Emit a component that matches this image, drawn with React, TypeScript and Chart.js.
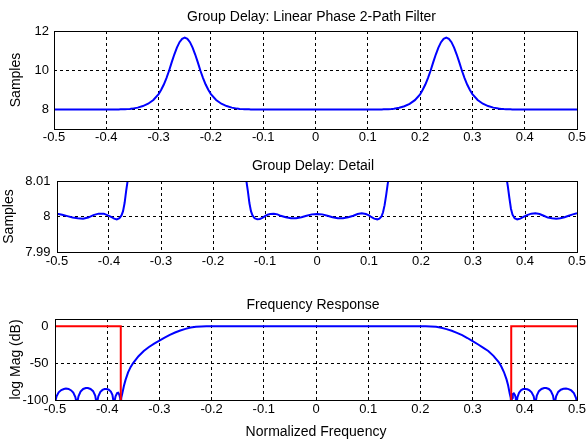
import React, { useEffect, useRef } from "react";
import { Chart, registerables } from "chart.js";

Chart.register(...registerables);

// ---------- data ----------
const xTickValues = [-0.5, -0.4, -0.3, -0.2, -0.1, 0, 0.1, 0.2, 0.3, 0.4, 0.5];
const delayTickValues = [8, 10, 12];
const detailTickValues = [7.99, 8, 8.01];
const magTickValues = [-100, -50, 0];

const delayFreq = [
  -0.5, -0.49, -0.48, -0.47, -0.46, -0.45, -0.44, -0.43, -0.42, -0.41, -0.4, -0.395, -0.39, -0.385, -0.38,
  -0.376, -0.373, -0.37, -0.367, -0.364, -0.36, -0.355, -0.35, -0.34, -0.33, -0.32, -0.31, -0.3, -0.295,
  -0.29, -0.285, -0.28, -0.275, -0.27, -0.265, -0.26, -0.255, -0.25, -0.245, -0.24, -0.235, -0.23, -0.225,
  -0.22, -0.215, -0.21, -0.205, -0.2, -0.19, -0.18, -0.17, -0.16, -0.15, -0.145, -0.14, -0.136, -0.133,
  -0.13, -0.127, -0.124, -0.12, -0.115, -0.11, -0.105, -0.1, -0.095, -0.09, -0.083, -0.076, -0.07, -0.06,
  -0.05, -0.04, -0.03, -0.02, -0.01, 0,
  0.01, 0.02, 0.03, 0.04, 0.05, 0.06, 0.07, 0.078, 0.086, 0.094, 0.1, 0.105, 0.11, 0.116, 0.12, 0.124,
  0.127, 0.13, 0.133, 0.136, 0.139, 0.145, 0.15, 0.16, 0.17, 0.18, 0.19, 0.2, 0.205, 0.21, 0.215, 0.22,
  0.225, 0.23, 0.235, 0.24, 0.245, 0.25, 0.255, 0.26, 0.265, 0.27, 0.275, 0.28, 0.285, 0.29, 0.295, 0.3,
  0.31, 0.32, 0.33, 0.34, 0.35, 0.355, 0.36, 0.364, 0.367, 0.37, 0.373, 0.376, 0.38, 0.385, 0.391, 0.397,
  0.404, 0.412, 0.42, 0.428, 0.436, 0.444, 0.452, 0.46, 0.468, 0.476, 0.484, 0.492, 0.5,
];
const delaySamples = [
  8.0008, 8.0005, 8.0001, 7.9997, 7.9995, 7.9994, 7.9997, 8.0004, 8.0008, 8.0008, 8.0002, 7.9998, 7.9994, 7.9992, 7.9995,
  8.0003, 8.0015, 8.0038, 8.0072, 8.0102, 8.014, 8.024, 8.04, 8.09, 8.17, 8.29, 8.48, 8.78, 9.0,
  9.27, 9.6, 9.97, 10.4, 10.8, 11.15, 11.43, 11.6, 11.66, 11.6, 11.43, 11.15, 10.8, 10.4,
  9.97, 9.6, 9.27, 9.0, 8.78, 8.48, 8.29, 8.17, 8.09, 8.04, 8.024, 8.014, 8.0102, 8.0072,
  8.0038, 8.0015, 8.0003, 7.9995, 7.9992, 7.9993, 7.9996, 8.0001, 8.0005, 8.0007, 8.0008, 8.0006, 8.0002, 7.9998,
  7.9995, 7.9995, 7.9998, 8.0002, 8.0006, 8.0007,
  8.0006, 8.0002, 7.9998, 7.9995, 7.9995, 7.9998, 8.0002, 8.0007, 8.0009, 8.0007, 8.0003, 7.9998, 7.9994, 7.9992, 7.9994, 8.0,
  8.0012, 8.0032, 8.006, 8.0092, 8.0118, 8.022, 8.037, 8.085, 8.16, 8.28, 8.47, 8.77, 9.0, 9.27, 9.6, 9.97,
  10.4, 10.8, 11.15, 11.43, 11.6, 11.66, 11.6, 11.43, 11.15, 10.8, 10.4, 9.97, 9.6, 9.27, 9.0, 8.78,
  8.48, 8.29, 8.17, 8.09, 8.042, 8.026, 8.016, 8.0112, 8.0085, 8.0052, 8.0022, 8.0005, 7.9995, 7.9992, 7.9994, 7.9999,
  8.0004, 8.0008, 8.0009, 8.0007, 8.0002, 7.9997, 7.9995, 7.9994, 7.9995, 7.9998, 8.0002, 8.0006, 8.0009,
];

const magFreq = [
  -0.5, -0.497, -0.493, -0.488, -0.483, -0.479, -0.474, -0.469, -0.465, -0.461, -0.458, -0.455, -0.451,
  -0.446, -0.441, -0.437, -0.432, -0.427, -0.423, -0.42, -0.417, -0.413, -0.409, -0.405, -0.401, -0.397,
  -0.393, -0.39, -0.387, -0.384, -0.381, -0.379, -0.377, -0.375, -0.374, -0.373, -0.371, -0.368, -0.365,
  -0.36, -0.355, -0.35, -0.34, -0.33, -0.32, -0.31, -0.3, -0.29, -0.28, -0.27, -0.26, -0.25, -0.24, -0.23,
  -0.22, -0.21, -0.1, 0, 0.1, 0.21, 0.22, 0.23, 0.24, 0.25, 0.26, 0.27, 0.28, 0.29, 0.3, 0.31, 0.32, 0.33,
  0.34, 0.35, 0.355, 0.36, 0.365, 0.368, 0.371, 0.373, 0.374, 0.3755, 0.377, 0.379, 0.381, 0.3825, 0.384,
  0.386, 0.389, 0.393, 0.397, 0.401, 0.405, 0.409, 0.413, 0.417, 0.42, 0.423, 0.427, 0.432, 0.437, 0.441,
  0.446, 0.45, 0.454, 0.457, 0.46, 0.464, 0.469, 0.474, 0.479, 0.484, 0.489, 0.494, 0.498, 0.5,
];
const magDb = [
  -104, -95, -89.5, -86.5, -85, -84.5, -85, -87, -90, -96, -106, -95, -88.5,
  -85, -83.7, -83.7, -85, -88, -94, -106, -95, -89, -86.3, -85.2, -85, -86,
  -88.5, -93, -106, -95, -90.5, -90, -92.5, -98, -106, -97, -91, -81, -73,
  -62.5, -55, -49.5, -40.5, -33.5, -28, -23.5, -19.3, -15.2, -11.5, -8.3, -5.6, -3.4, -1.6, -0.5,
  -0.05, 0, 0, 0, 0, 0, -0.05, -0.6, -1.8, -3.8, -6, -8.8, -12, -15.8, -20, -24.3, -28.8, -33.5,
  -40, -48.5, -54.5, -62, -72, -80, -91, -97, -106, -97, -92, -91, -93, -97, -106,
  -96, -90, -86.5, -85.2, -85, -85.5, -87, -89.5, -95, -106, -94, -88, -85, -83.7, -83.7,
  -85, -88, -94, -106, -95, -89, -86, -84.8, -84.5, -85.2, -87, -90.5, -97, -104,
];

const maskLeftFreq = [-0.5, -0.374, -0.374];
const maskLeftDb = [0, 0, -100];
const maskRightFreq = [0.374, 0.374, 0.5];
const maskRightDb = [-100, 0, 0];

// ---------- helpers ----------
const W = 587;
const H = 443;
const FONT = "'Liberation Sans', Arial, Helvetica, sans-serif";
const BLUE = "#0000ff";
const RED = "#ff0000";

function pts(xs: number[], ys: number[]) {
  return xs.map((x, i) => ({ x, y: ys[i] }));
}

function lineSet(xs: number[], ys: number[], color: string) {
  return {
    data: pts(xs, ys),
    borderColor: color,
    backgroundColor: color,
    borderWidth: 2,
    pointRadius: 0,
    tension: 0,
    fill: false,
    clip: 0,
  };
}

const boxPlugin = {
  id: "matlabBox",
  afterLayout(chart: any) {
    const dx = chart.options.plugins.matlabBox?.titleShift || 0;
    if (chart.titleBlock) {
      chart.titleBlock.left += dx;
      chart.titleBlock.right += dx;
    }
  },
  afterDraw(chart: any) {
    const { ctx, chartArea } = chart;
    const l = Math.round(chartArea.left);
    const r = Math.round(chartArea.right);
    const t = Math.round(chartArea.top);
    const b = Math.round(chartArea.bottom);
    ctx.save();
    ctx.strokeStyle = "#000";
    ctx.lineWidth = 1;
    ctx.setLineDash([]);
    ctx.strokeRect(l + 0.5, t + 0.5, r - l, b - t);
    ctx.restore();
  },
};

interface Panel {
  left: number;
  right: number;
  top: number;
  bottom: number;
  titleTop: number;
  title: string;
  titleShift: number;
  yTitle: string;
  yTitleOffset: number;
  yLabelGap: number;
  xLabelPad: number;
  yMin: number;
  yMax: number;
  yTicks: number[];
  xTitle?: string;
  datasets: any[];
}

const panels: Panel[] = [
  {
    left: 54, right: 577, top: 31, bottom: 129, titleTop: 10,
    title: "Group Delay: Linear Phase 2-Path Filter", titleShift: -4,
    yTitle: "Samples", yTitleOffset: 9, yLabelGap: 5, xLabelPad: 0.5,
    yMin: 7, yMax: 12, yTicks: delayTickValues,
    datasets: [lineSet(delayFreq, delaySamples, BLUE)],
  },
  {
    left: 57, right: 577, top: 181, bottom: 252, titleTop: 159,
    title: "Group Delay: Detail", titleShift: -4,
    yTitle: "Samples", yTitleOffset: 2.5, yLabelGap: 6.5, xLabelPad: 2,
    yMin: 7.99, yMax: 8.01, yTicks: detailTickValues,
    datasets: [lineSet(delayFreq, delaySamples, BLUE)],
  },
  {
    left: 55, right: 577, top: 319, bottom: 400, titleTop: 298,
    title: "Frequency Response", titleShift: -3,
    yTitle: "log Mag (dB)", yTitleOffset: 9.5, yLabelGap: 6.5, xLabelPad: 1.5,
    yMin: -100, yMax: 10, yTicks: magTickValues,
    xTitle: "Normalized Frequency",
    datasets: [
      lineSet(maskLeftFreq, maskLeftDb, RED),
      lineSet(maskRightFreq, maskRightDb, RED),
      lineSet(magFreq, magDb, BLUE),
    ],
  },
];

function makeConfig(p: Panel): any {
  const xAxisH = p.xTitle ? H - p.bottom : 20;
  const tickFont = { family: FONT, size: 13 };
  return {
    type: "line",
    data: { datasets: p.datasets },
    options: {
      animation: false,
      responsive: false,
      maintainAspectRatio: false,
      events: [],
      layout: {
        padding: { left: 0, right: W - p.right, top: p.titleTop, bottom: H - p.bottom - xAxisH },
      },
      plugins: {
        legend: { display: false },
        tooltip: { enabled: false },
        matlabBox: { titleShift: p.titleShift },
        title: {
          display: true,
          text: p.title,
          color: "#000",
          fullSize: false,
          font: { family: FONT, size: 14, weight: "normal", lineHeight: 1 },
          padding: { top: 0, bottom: p.top - p.titleTop - 14 },
        },
      },
      scales: {
        x: {
          type: "linear",
          min: -0.5,
          max: 0.5,
          afterBuildTicks: (s: any) => {
            s.ticks = xTickValues.map((v) => ({ value: v }));
          },
          afterFit: (s: any) => {
            s.height = xAxisH;
            s.paddingLeft = 0;
            s.paddingRight = 0;
          },
          ticks: {
            autoSkip: false,
            maxRotation: 0,
            padding: p.xLabelPad,
            color: "#000",
            font: tickFont,
            callback: (v: number) => String(v),
          },
          grid: { color: "#000", lineWidth: 1, drawTicks: false },
          border: { display: false, dash: [3, 3] },
          title: p.xTitle
            ? {
                display: true,
                text: p.xTitle,
                color: "#000",
                font: { family: FONT, size: 14, lineHeight: 1 },
                padding: { top: 0, bottom: 4 },
              }
            : { display: false },
        },
        y: {
          type: "linear",
          min: p.yMin,
          max: p.yMax,
          afterBuildTicks: (s: any) => {
            s.ticks = p.yTicks.map((v) => ({ value: v }));
          },
          afterFit: (s: any) => {
            s.width = p.left;
            s.paddingTop = 0;
            s.paddingBottom = 0;
          },
          ticks: {
            autoSkip: false,
            padding: p.yLabelGap,
            color: "#000",
            font: tickFont,
            callback: (v: number) => String(v),
          },
          grid: { color: "#000", lineWidth: 1, drawTicks: false },
          border: { display: false, dash: [3, 3] },
          title: {
            display: true,
            text: p.yTitle,
            color: "#000",
            font: { family: FONT, size: 14, lineHeight: 1 },
            padding: { top: p.yTitleOffset, bottom: 0 },
          },
        },
      },
    },
    plugins: [boxPlugin],
  };
}

export default function App() {
  const refs = useRef<(HTMLCanvasElement | null)[]>([]);

  useEffect(() => {
    const charts = panels.map((p, i) => new Chart(refs.current[i] as HTMLCanvasElement, makeConfig(p)));
    return () => charts.forEach((c) => c.destroy());
  }, []);

  return (
    <div style={{ position: "absolute", left: 0, top: 0, width: W, height: H, background: "#fff" }}>
      {panels.map((_, i) => (
        <canvas
          key={i}
          ref={(el) => {
            refs.current[i] = el;
          }}
          width={W}
          height={H}
          style={{ position: "absolute", left: 0, top: 0, width: W, height: H }}
        />
      ))}
    </div>
  );
}
